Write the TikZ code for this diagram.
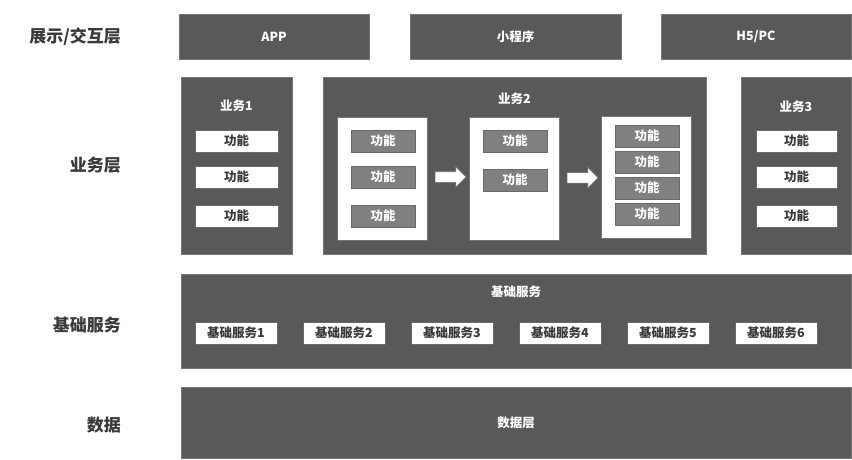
\documentclass[tikz,border=0pt]{standalone}
\usepackage{fontspec}
\setmainfont{Noto Sans CJK SC}
\usepackage{tikz}
\usetikzlibrary{positioning,calc,shapes.arrows}
\definecolor{layerfill}{HTML}{595959}
\definecolor{layerline}{HTML}{767676}
\definecolor{funcfill}{HTML}{808080}
\definecolor{funcline}{HTML}{6A6A6A}
\definecolor{labeltext}{HTML}{3A3A3A}
\tikzset{
  sidelabel/.style={anchor=east, text=labeltext, font=\fontsize{17}{20}\selectfont\bfseries, inner sep=0pt},
  boxfont/.style={font=\fontsize{12.5}{15}\selectfont\bfseries},
  layerbox/.style={draw=layerline, fill=layerfill, line width=0.8pt, inner sep=0pt, text=white, boxfont},
  boxtitle/.style={text=white, boxfont, inner sep=0pt},
  panelbox/.style={draw=layerline, fill=white, line width=0.8pt, inner sep=0pt},
  funcwhite/.style={draw=funcline, fill=white, line width=0.6pt, inner sep=0pt, text=labeltext, boxfont, minimum height=22pt},
  funcgray/.style={draw=funcline, fill=funcfill, line width=0.6pt, inner sep=0pt, text=white, boxfont, minimum width=64pt, minimum height=22pt},
  flowarrow/.style={single arrow, draw=layerline, fill=white, line width=0.6pt, inner xsep=0pt, inner ysep=5pt,
    minimum width=20pt, minimum height=31pt, single arrow head extend=5pt, single arrow head indent=0pt},
}

\begin{document}
\begin{tikzpicture}[x=1pt, y=-1pt]
		\useasboundingbox (0,0) rectangle (852,459);

		% Side labels
		\node[sidelabel] (lblview) at (121,37) {展示/交互层};
		\node[sidelabel] (lblbiz) at (121,165) {业务层};
		\node[sidelabel] (lblbase) at (121,325) {基础服务};
		\node[sidelabel] (lbldata) at (121,425) {数据};

		% View layer
		\node[layerbox, minimum width=190pt, minimum height=45pt] (app) at (274,36.5) {APP};
		\node[layerbox, minimum width=211pt, minimum height=45pt] (mini) at (515.5,36.5) {小程序};
		\node[layerbox, minimum width=190pt, minimum height=45pt] (h5) at (756,36.5) {H5/PC};

		% Business layer
		\node[layerbox, minimum width=111pt, minimum height=177pt] (biz1) at (236.5,165.5) {};
		\node[boxtitle] (biz1title) at (236.5,106) {业务1};
		\foreach \y [count=\i] in {141,177,216}
			\node[funcwhite, minimum width=83pt] (bizA\i) at (236.5,\y) {功能};

		\node[layerbox, minimum width=383pt, minimum height=177pt] (biz2) at (514.5,165.5) {};
		\node[boxtitle] (biz2title) at (514.5,99) {业务2};
		\node[panelbox, minimum width=90pt, minimum height=123pt] (panelA) at (382,178.5) {};
		\node[panelbox, minimum width=90pt, minimum height=123pt] (panelB) at (514,178.5) {};
		\node[panelbox, minimum width=90pt, minimum height=122pt] (panelC) at (646,177) {};
		\foreach \y [count=\i] in {141,177,216}
			\node[funcgray] (funcA\i) at (383,\y) {功能};
		\foreach \y [count=\i] in {141,180}
			\node[funcgray] (funcB\i) at (515,\y) {功能};
		\foreach \y [count=\i] in {136,162,188,214}
			\node[funcgray] (funcC\i) at (647,\y) {功能};
		\node[flowarrow] (flowAB) at ($(panelA.east)!0.5!(panelB.west)+(0,-1.5)$) {};
		\node[flowarrow] (flowBC) at ($(panelB.east)!0.5!(panelC.west)$) {};

		\node[layerbox, minimum width=110pt, minimum height=177pt] (biz3) at (796,165.5) {};
		\node[boxtitle] (biz3title) at (796,107) {业务3};
		\foreach \y [count=\i] in {141,177,216}
			\node[funcwhite, minimum width=81pt] (bizC\i) at (796.5,\y) {功能};

		% Base service layer
		\node[layerbox, minimum width=670pt, minimum height=94pt] (base) at (516,321) {};
		\node[boxtitle] (basetitle) at (516,292) {基础服务};
		\foreach \i in {1,...,6}
			\node[funcwhite, minimum width=82pt] (svc\i) at ({236+108*(\i-1)},333) {基础服务\i};

		% Data layer
		\node[layerbox, minimum width=670pt, minimum height=71pt] (data) at (516,422.5) {数据层};
	\end{tikzpicture}
\end{document}
